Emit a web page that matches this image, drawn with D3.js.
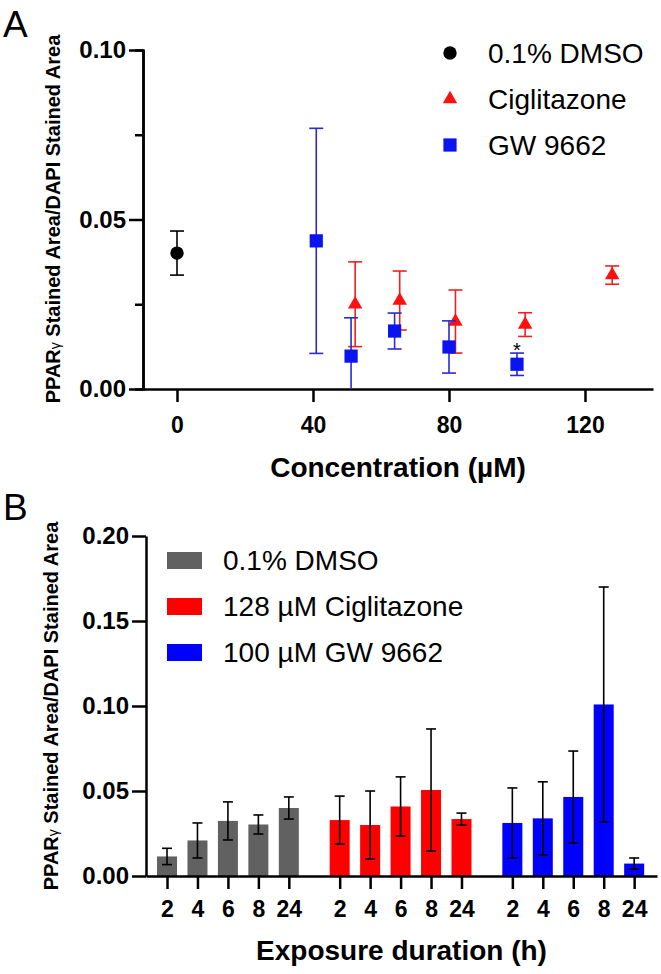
<!DOCTYPE html>
<html>
<head>
<meta charset="utf-8">
<title>PPARg stained area</title>
<script src="https://cdn.jsdelivr.net/npm/d3@7"></script>
<style>
  body { margin: 0; background: #fff; }
  text { font-family: "Liberation Sans", Arial, sans-serif; }
</style>
</head>
<body>
<script>
// ---- panel A data (mean, SD) ----
var dmsoConc = [0];
var dmsoMean = [0.0401];
var dmsoSd = [0.0065];

var cigConc = [52.4, 65.5, 81.9, 102.4, 128];
var cigMean = [0.0250, 0.0261, 0.0199, 0.0190, 0.0336];
var cigSd = [0.0125, 0.0087, 0.0093, 0.0035, 0.0027];

var gwConc = [40.96, 51.2, 64, 80, 100];
var gwMean = [0.0437, 0.0097, 0.0171, 0.0124, 0.0073];
var gwSd = [0.0332, 0.0113, 0.0053, 0.0077, 0.0033];

var aXTicks = [0, 40, 80, 120];
var aYTicks = [0, 0.05, 0.10];
var aYMinor = [0.025, 0.075];

// ---- panel B data ----
var hours = ["2", "4", "6", "8", "24"];
var groups = ["0.1% DMSO", "128 \u00b5M Ciglitazone", "100 \u00b5M GW 9662"];
var dmsoBar = [0.0115, 0.0209, 0.0324, 0.0303, 0.0400];
var dmsoBarSd = [0.0048, 0.0103, 0.0112, 0.0056, 0.0065];
var cigBar = [0.0329, 0.0300, 0.0409, 0.0506, 0.0335];
var cigBarSd = [0.0141, 0.0200, 0.0174, 0.0359, 0.0035];
var gwBar = [0.0312, 0.0339, 0.0465, 0.1009, 0.0073];
var gwBarSd = [0.0206, 0.0215, 0.0270, 0.0691, 0.0033];
var bYTicks = [0, 0.05, 0.10, 0.15, 0.20];

var W = 661, H = 974;
var svg = d3.select("body").append("svg")
    .attr("width", W).attr("height", H);

var yLabel = function(g, x, y) {
    var t = g.append("text")
        .attr("transform", "translate(" + x + "," + y + ") rotate(-90)")
        .attr("text-anchor", "middle")
        .attr("font-size", "20px")
        .attr("font-weight", "bold");
    t.append("tspan").text("PPAR");
    t.append("tspan").attr("font-size", "14px").attr("font-weight", "normal").text("\u03b3");
    t.append("tspan").text(" Stained Area/DAPI Stained Area");
};

function styleAxis(g) {
    g.select(".domain").attr("stroke", "#000").attr("stroke-width", 2.5);
    g.selectAll(".tick line").attr("stroke", "#000").attr("stroke-width", 2.5);
    g.selectAll(".tick text")
        .attr("font-family", "'Liberation Sans', Arial, sans-serif")
        .attr("font-weight", "bold")
        .attr("fill", "#000");
}

// ================= Panel A =================
var ax = d3.scaleLinear().domain([-10, 140]).range([143, 653]);
var ay = d3.scaleLinear().domain([0, 0.10]).range([389, 50]);

svg.append("text").attr("x", 3).attr("y", 37)
    .attr("font-size", "37px").text("A");

yLabel(svg, 60, 219);

var axA = svg.append("g").attr("transform", "translate(0," + ay(0) + ")")
    .call(d3.axisBottom(ax).tickValues(aXTicks).tickSize(13).tickSizeOuter(0).tickPadding(15));
styleAxis(axA);
axA.selectAll(".tick text").attr("font-size", "23px");

var ayMinorG = svg.append("g").attr("transform", "translate(" + ax(-10) + ",0)")
    .call(d3.axisLeft(ay).tickValues(aYMinor).tickSize(8).tickFormat(""));
styleAxis(ayMinorG);
var ayA = svg.append("g").attr("transform", "translate(" + ax(-10) + ",0)")
    .call(d3.axisLeft(ay).tickValues(aYTicks).tickSize(14).tickSizeOuter(0)
        .tickPadding(3).tickFormat(d3.format(".2f")));
styleAxis(ayA);
ayA.selectAll(".tick text").attr("font-size", "24px");

svg.append("text").attr("x", (ax(-10) + ax(140)) / 2).attr("y", 477)
    .attr("text-anchor", "middle").attr("font-size", "28px").attr("font-weight", "bold")
    .text("Concentration (\u00b5M)");

function zip(c, m, s) {
    return c.map(function(d, i) { return { x: d, m: m[i], s: s[i] }; });
}
var seriesA = [
    { name: "0.1% DMSO", color: "#000", bar: "#000", sym: d3.symbolCircle, size: 140, pts: zip(dmsoConc, dmsoMean, dmsoSd) },
    { name: "Ciglitazone", color: "#ff1010", bar: "#ee2020", sym: d3.symbolTriangle, size: 90, pts: zip(cigConc, cigMean, cigSd) },
    { name: "GW 9662", color: "#0a14f0", bar: "#2a2ad0", sym: d3.symbolSquare, size: 175, pts: zip(gwConc, gwMean, gwSd) }
];

seriesA.forEach(function(s) {
    var g = svg.append("g");
    var cap = 7;
    s.pts.forEach(function(p) {
        var cx = ax(p.x);
        var top = ay(p.m + p.s), bot = ay(Math.max(0, p.m - p.s));
        g.append("line").attr("x1", cx).attr("x2", cx).attr("y1", top).attr("y2", bot)
            .attr("stroke", s.bar).attr("stroke-width", 1.6);
        g.append("line").attr("x1", cx - cap).attr("x2", cx + cap).attr("y1", top).attr("y2", top)
            .attr("stroke", s.bar).attr("stroke-width", 1.6);
        if (p.m - p.s > 0) {
            g.append("line").attr("x1", cx - cap).attr("x2", cx + cap).attr("y1", bot).attr("y2", bot)
                .attr("stroke", s.bar).attr("stroke-width", 1.6);
        }
    });
    g.selectAll("path.pt").data(s.pts).enter().append("path")
        .attr("class", "pt")
        .attr("d", d3.symbol().type(s.sym).size(s.size))
        .attr("transform", function(d) { return "translate(" + ax(d.x) + "," + ay(d.m) + ")"; })
        .attr("fill", s.color);
});

// significance mark on GW 9662 at 100 uM
svg.append("text").attr("x", ax(100)).attr("y", ay(gwMean[4] + gwSd[4]) + 4)
    .attr("text-anchor", "middle").attr("font-size", "20px").text("*");

// legend A
var legA = svg.append("g");
seriesA.forEach(function(s, i) {
    var ly = 53 + i * 46;
    legA.append("path").attr("d", d3.symbol().type(s.sym).size(s.size))
        .attr("transform", "translate(450," + ly + ")").attr("fill", s.color);
    legA.append("text").attr("x", 488).attr("y", ly + 10)
        .attr("font-size", "28px").text(s.name);
});

// ================= Panel B =================
var gap = 5.67;
var barData = [];
[[dmsoBar, dmsoBarSd], [cigBar, cigBarSd], [gwBar, gwBarSd]].forEach(function(pair, gi) {
    hours.forEach(function(h, i) {
        barData.push({ g: gi, h: h, pos: gi * gap + i, m: pair[0][i], s: pair[1][i] });
    });
});
var barColors = ["#616161", "#ff0000", "#0000ff"];

var bx = d3.scaleLinear().domain([-0.69, 2 * gap + 4 + 0.75]).range([146, 657]);
var by = d3.scaleLinear().domain([0, 0.20]).range([876, 536]);
var bw = 20;

svg.append("text").attr("x", 3).attr("y", 520)
    .attr("font-size", "37px").text("B");

yLabel(svg, 58, 706);

svg.append("g").selectAll("rect").data(barData).enter().append("rect")
    .attr("x", function(d) { return bx(d.pos) - bw / 2; })
    .attr("y", function(d) { return by(d.m); })
    .attr("width", bw)
    .attr("height", function(d) { return by(0) - by(d.m); })
    .attr("fill", function(d) { return barColors[d.g]; });

var eb = svg.append("g").attr("stroke", "#000").attr("stroke-width", 1.6);
barData.forEach(function(d) {
    var cx = bx(d.pos), t = by(d.m + d.s), b = by(Math.max(0, d.m - d.s));
    eb.append("line").attr("x1", cx).attr("x2", cx).attr("y1", t).attr("y2", b);
    eb.append("line").attr("x1", cx - 5).attr("x2", cx + 5).attr("y1", t).attr("y2", t);
    eb.append("line").attr("x1", cx - 5).attr("x2", cx + 5).attr("y1", b).attr("y2", b);
});

var bxAxis = svg.append("g").attr("transform", "translate(0," + by(0) + ")")
    .call(d3.axisBottom(bx).tickValues(barData.map(function(d) { return d.pos; }))
        .tickSize(13).tickSizeOuter(0).tickPadding(12)
        .tickFormat(function(v, i) { return barData[i].h; }));
styleAxis(bxAxis);
bxAxis.selectAll(".tick text").attr("font-size", "23px");

var byAxis = svg.append("g").attr("transform", "translate(" + bx(-0.69) + ",0)")
    .call(d3.axisLeft(by).tickValues(bYTicks).tickSize(14).tickSizeOuter(0)
        .tickPadding(3).tickFormat(d3.format(".2f")));
styleAxis(byAxis);
byAxis.selectAll(".tick text").attr("font-size", "24px");

svg.append("text").attr("x", (bx.range()[0] + bx.range()[1]) / 2).attr("y", 960)
    .attr("text-anchor", "middle").attr("font-size", "28px").attr("font-weight", "bold")
    .text("Exposure duration (h)");

// legend B
var legB = svg.append("g");
groups.forEach(function(name, i) {
    var ly = 552 + i * 46;
    legB.append("rect").attr("x", 167).attr("y", ly).attr("width", 35).attr("height", 17)
        .attr("fill", barColors[i]);
    legB.append("text").attr("x", 223).attr("y", ly + 18)
        .attr("font-size", "28px").text(name);
});
</script>
</body>
</html>
